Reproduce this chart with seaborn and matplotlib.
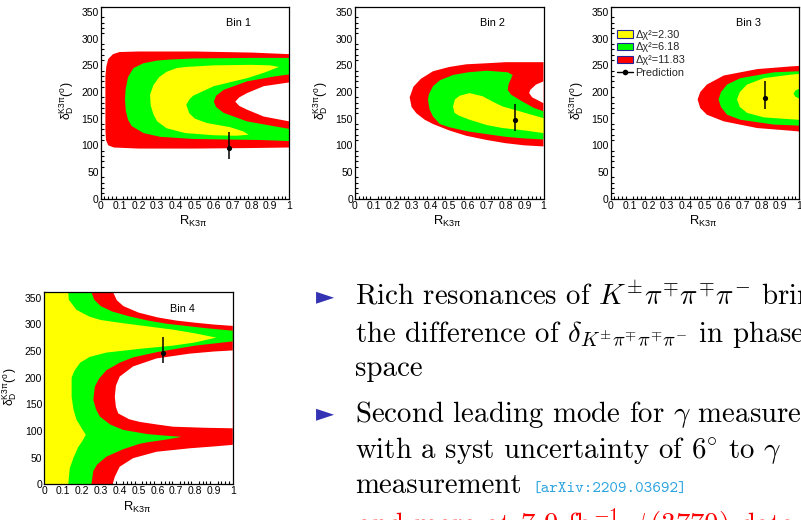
import numpy as np
import pandas as pd
import matplotlib
matplotlib.use("Agg")
import matplotlib.pyplot as plt
import seaborn as sns
from matplotlib.patches import Patch
from matplotlib.lines import Line2D
from matplotlib.ticker import MultipleLocator

# ---- prediction points per bin ----
bin_names = ["Bin 1", "Bin 2", "Bin 3", "Bin 4"]
pred_R = [0.68, 0.85, 0.82, 0.63]
pred_delta = [96, 147, 188, 247]
pred_err_lo = [21, 20, 19, 20]
pred_err_hi = [30, 31, 32, 30]

# ---- tick labels ----
x_ticks = [0, 0.1, 0.2, 0.3, 0.4, 0.5, 0.6, 0.7, 0.8, 0.9, 1.0]
x_tick_labels = ["0", "0.1", "0.2", "0.3", "0.4", "0.5", "0.6", "0.7", "0.8", "0.9", "1"]
y_ticks = [0, 50, 100, 150, 200, 250, 300, 350]
y_tick_labels = ["0", "50", "100", "150", "200", "250", "300", "350"]

# ---- contour outlines, (R, delta) ----
bin1_red = [(1.0, 271), (0.8, 274), (0.5, 276), (0.2, 276), (0.1, 275), (0.065, 271), (0.04, 262),
            (0.03, 248), (0.025, 230), (0.025, 130), (0.028, 110), (0.04, 100), (0.07, 96),
            (0.2, 94), (0.5, 94), (0.8, 95), (1.0, 96)]
bin1_green = [(1.0, 264), (0.8, 264), (0.5, 263), (0.37, 261), (0.3, 259), (0.227, 254), (0.174, 245),
              (0.145, 228), (0.132, 205), (0.129, 186), (0.133, 165), (0.145, 148), (0.165, 136),
              (0.227, 123), (0.316, 116), (0.49, 112), (0.85, 110), (1.0, 108), (1.0, 131),
              (0.918, 136), (0.776, 145), (0.652, 161), (0.612, 172), (0.6, 182), (0.612, 193),
              (0.652, 204), (0.776, 220), (0.918, 229), (1.0, 233)]
bin1_yellow = [(0.945, 247), (0.9, 250), (0.8, 251), (0.6, 250), (0.45, 247), (0.404, 245), (0.35, 238),
               (0.31, 228), (0.28, 213), (0.262, 195), (0.265, 175), (0.28, 158), (0.3, 145),
               (0.35, 132), (0.45, 123), (0.6, 119), (0.72, 118), (0.785, 120), (0.757, 126),
               (0.688, 134), (0.562, 142), (0.5, 150), (0.47, 160), (0.454, 176), (0.47, 186),
               (0.49, 193), (0.6, 211), (0.776, 226), (0.865, 236)]
bin1_hole = [(1.0, 218), (0.865, 211), (0.776, 198), (0.735, 190), (0.714, 182), (0.735, 174),
             (0.776, 167), (0.865, 154), (1.0, 145)]

bin2_red = [(1.0, 256), (0.8, 256), (0.7, 254), (0.59, 252), (0.5, 247), (0.414, 239), (0.35, 225),
            (0.31, 210), (0.29, 190), (0.3, 172), (0.326, 160), (0.37, 148), (0.414, 140), (0.5, 128),
            (0.59, 118), (0.7, 110), (0.8, 104), (0.9, 100), (1.0, 98)]
bin2_green = [(0.81, 237), (0.7, 240), (0.6, 237), (0.52, 232), (0.45, 222), (0.414, 211), (0.392, 196),
              (0.387, 186), (0.395, 168), (0.414, 154), (0.45, 140), (0.5, 134), (0.6, 126), (0.7, 121),
              (0.8, 116), (0.9, 113), (1.0, 111), (1.0, 164), (0.951, 170), (0.889, 182), (0.828, 195),
              (0.81, 204), (0.815, 215), (0.828, 225), (0.836, 232)]
bin2_yellow = [(0.52, 173), (0.53, 186), (0.555, 193), (0.608, 198), (0.678, 192), (0.73, 182),
               (0.783, 173), (0.872, 164), (1.0, 151), (1.0, 123), (0.9, 128), (0.783, 132.5),
               (0.7, 138), (0.608, 148), (0.55, 156), (0.528, 161)]
bin2_hole = [(1.0, 220), (0.96, 214), (0.93, 204), (0.924, 198), (0.94, 190), (0.968, 185), (1.0, 179)]

bin3_red = [(1.0, 249), (0.954, 248), (0.777, 243), (0.6, 231), (0.51, 214), (0.475, 200), (0.461, 186),
            (0.475, 170), (0.51, 157.5), (0.6, 145), (0.777, 132.5), (0.954, 127.5), (1.0, 126)]
bin3_green = [(1.0, 239), (0.865, 237), (0.688, 226), (0.617, 214), (0.585, 200), (0.572, 186),
              (0.585, 172), (0.617, 157.5), (0.688, 148), (0.865, 139), (1.0, 137)]
bin3_yellow = [(1.0, 234), (0.954, 232.5), (0.812, 226), (0.723, 214), (0.685, 200), (0.67, 186),
               (0.685, 172), (0.723, 161), (0.812, 152.5), (0.954, 149), (1.0, 148)]
bin3_spot = [(1.0, 206), (0.98, 203), (0.97, 197), (0.98, 191), (1.0, 188)]

bin4_red = [(0, 0), (0, 360), (0.365, 360), (0.385, 345), (0.42, 334), (0.5, 322), (0.6, 313), (0.7, 307),
            (0.8, 303), (0.9, 299.5), (1.0, 297), (1.0, 74), (0.9, 71), (0.771, 67.5), (0.595, 61),
            (0.471, 49), (0.4, 33), (0.374, 14), (0.362, 0)]
bin4_green = [(0, 0), (0, 360), (0.25, 360), (0.265, 346), (0.3, 334), (0.36, 324), (0.45, 315),
              (0.55, 307), (0.65, 301), (0.75, 297), (0.85, 293), (1.0, 288), (1.0, 268), (0.9, 264),
              (0.8, 260), (0.683, 253), (0.6, 248), (0.471, 238), (0.4, 228), (0.33, 214), (0.29, 198),
              (0.268, 183), (0.26, 158), (0.275, 140), (0.295, 127), (0.35, 112), (0.418, 102),
              (0.55, 94), (0.65, 91), (0.727, 89), (0.65, 84), (0.55, 79), (0.506, 76), (0.42, 66),
              (0.33, 52), (0.28, 37), (0.26, 25), (0.25, 0)]
bin4_yellow = [(0, 0), (0, 360), (0.127, 360), (0.13, 346), (0.171, 327), (0.242, 314), (0.3, 308),
               (0.418, 302), (0.55, 296), (0.683, 290), (0.8, 283), (0.912, 275), (0.8, 266),
               (0.683, 260), (0.506, 254), (0.33, 247), (0.242, 239), (0.19, 228), (0.16, 213),
               (0.145, 200), (0.145, 164), (0.155, 140), (0.171, 121), (0.2, 104), (0.22, 93),
               (0.2, 80), (0.18, 70), (0.155, 50), (0.135, 30), (0.127, 0)]
bin4_hole = [(1.0, 251), (0.9, 249), (0.771, 245), (0.595, 236), (0.471, 221), (0.4, 202), (0.38, 185),
             (0.374, 164), (0.38, 145), (0.392, 133), (0.45, 122), (0.506, 117), (0.6, 112),
             (0.683, 108), (0.85, 106), (1.0, 105)]

level_labels = ["\u0394\u03c7\u00b2=2.30", "\u0394\u03c7\u00b2=6.18", "\u0394\u03c7\u00b2=11.83"]
RED, GREEN, YELLOW = "#ff0000", "#00ff00", "#ffff00"

# layers drawn in order for each bin
layers = [
    [(bin1_red, RED), (bin1_green, GREEN), (bin1_yellow, YELLOW), (bin1_hole, "white")],
    [(bin2_red, RED), (bin2_green, GREEN), (bin2_yellow, YELLOW), (bin2_hole, "white")],
    [(bin3_red, RED), (bin3_green, GREEN), (bin3_yellow, YELLOW), (bin3_spot, GREEN)],
    [(bin4_red, RED), (bin4_green, GREEN), (bin4_yellow, YELLOW), (bin4_hole, "white")],
]

sns.set_theme(style="white")
plt.rcParams["font.family"] = ["Liberation Sans", "DejaVu Sans"]
plt.rcParams["mathtext.fontset"] = "custom"
plt.rcParams["mathtext.rm"] = "Liberation Sans"
plt.rcParams["mathtext.it"] = "Liberation Sans"
plt.rcParams["mathtext.bf"] = "Liberation Sans:bold"

W, H = 801, 520
fig = plt.figure(figsize=(W / 100, H / 100), dpi=100)
fig.patch.set_facecolor("white")

# axes boxes in pixels: left, top
boxes = [(100.7, 6.7), (355, 6.7), (610.7, 6.7), (44.3, 292.3)]
aw, ah = 188.5, 192

pred = pd.DataFrame({"R": pred_R, "delta": pred_delta, "bin": bin_names})

for i, (left, top) in enumerate(boxes):
    ax = fig.add_axes([left / W, 1 - (top + ah) / H, aw / W, ah / H])
    ax.set_facecolor("white")
    for pts, col in layers[i]:
        xs = [p[0] for p in pts]
        ys = [p[1] for p in pts]
        ax.fill(xs, ys, color=col, lw=0, zorder=1)

    ax.errorbar([pred_R[i]], [pred_delta[i]], yerr=[[pred_err_lo[i]], [pred_err_hi[i]]],
                fmt="none", ecolor="black", elinewidth=1.1, capsize=0, zorder=3)
    sns.scatterplot(data=pred[pred["bin"] == bin_names[i]], x="R", y="delta", ax=ax,
                    color="black", s=14, edgecolor="black", linewidth=0, zorder=4, legend=False)

    ax.set_xlim(0, 1)
    ax.set_ylim(0, 360)
    ax.set_xticks(x_ticks)
    ax.set_xticklabels(x_tick_labels)
    ax.set_yticks(y_ticks)
    ax.set_yticklabels(y_tick_labels)
    ax.xaxis.set_minor_locator(MultipleLocator(0.02))
    ax.yaxis.set_minor_locator(MultipleLocator(10))
    ax.tick_params(which="both", direction="in", top=False, right=False, labelsize=7.5,
                   colors="black", pad=1.5, width=0.8)
    ax.tick_params(which="major", length=4.5)
    ax.tick_params(which="minor", length=2.2, bottom=True, left=True)
    for s in ax.spines.values():
        s.set_color("black")
        s.set_linewidth(0.9)

    ax.set_xlabel(r"$\mathrm{R_{K3\pi}}$", fontsize=9.3, color="black")
    ax.xaxis.set_label_coords(0.49, -0.08)
    ax.xaxis.label.set_va("top")
    ax.set_ylabel(r"$\mathrm{\delta_{D}^{K3\pi}(^{o})}$", fontsize=8.8, color="black")
    ax.yaxis.set_label_coords(-0.133, 0.51)

    ax.text(0.665, 0.915, bin_names[i], transform=ax.transAxes, fontsize=7.8,
            ha="left", va="center", color="black")

    if i == 2:
        handles = [Patch(facecolor=YELLOW, edgecolor="#23239a", lw=0.8),
                   Patch(facecolor=GREEN, edgecolor="#23239a", lw=0.8),
                   Patch(facecolor=RED, edgecolor="#23239a", lw=0.8),
                   Line2D([], [], color="black", marker="o", ms=3, lw=1)]
        ax.legend(handles, level_labels + ["Prediction"], loc="upper left",
                  bbox_to_anchor=(0.035, 0.88), frameon=False, fontsize=7.8,
                  handlelength=1.45, handleheight=0.7, handletextpad=0.2,
                  labelspacing=0.25, borderpad=0, borderaxespad=0)

# ---- slide text on the right ----
def px(x, y):
    return x / W, 1 - y / H

body = dict(fontfamily="cmr10", math_fontfamily="cm", fontsize=20.8, color="black", va="baseline")
lines = [
    (355, 305, r"Rich resonances of $K^{\pm}\pi^{\mp}\pi^{\mp}\pi^{-}$ brings"),
    (355, 341.5, r"the difference of $\delta_{K^{\pm}\pi^{\mp}\pi^{\mp}\pi^{-}}$ in phase"),
    (355, 376.5, "space"),
    (355, 421.7, r"Second leading mode for $\gamma$ measurement"),
    (355, 458.3, r"with a syst uncertainty of 6$^{\circ}$ to $\gamma$"),
    (355, 492.7, "measurement"),
]
for x, y, s in lines:
    fig.text(*px(x, y), s, **body)

fig.text(*px(532, 492.7), "[arXiv:2209.03692]", fontfamily="cmtt10", fontsize=11.8,
         color="#2fa5e0", va="baseline")
fig.text(*px(357, 534), r"and more at 7.9 fb$^{-1}$ $\psi(3770)$ data", fontfamily="cmr10",
         math_fontfamily="cm", fontsize=20.8, color="#ff0000", va="baseline")

for yb in [303.5, 420.5, 532]:
    fig.text(*px(316, yb), "\u25ba", fontfamily="DejaVu Sans", fontsize=17,
             color="#3333b3", va="baseline")

fig.savefig("out.png", dpi=100)
